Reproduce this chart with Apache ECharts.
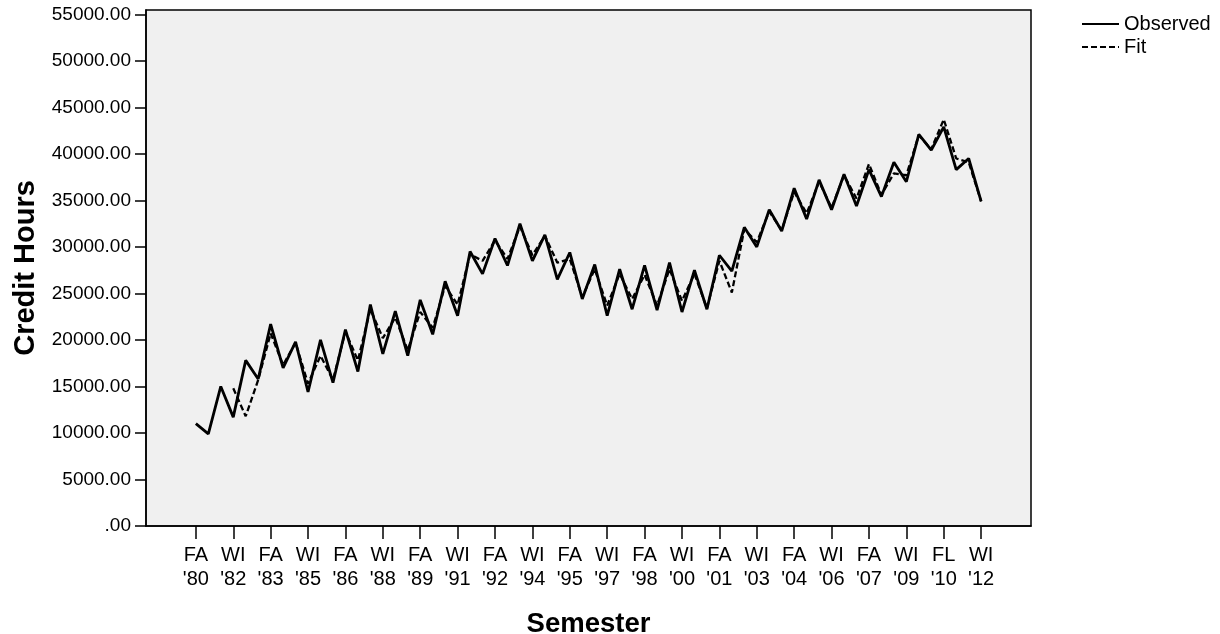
<!DOCTYPE html>
<html>
<head>
<meta charset="utf-8">
<script src="https://cdn.jsdelivr.net/npm/echarts@6/dist/echarts.min.js"></script>
<style>
  html, body { margin: 0; padding: 0; background: #ffffff; }
  #chart { width: 1220px; height: 634px; }
</style>
</head>
<body>
<div id="chart"></div>
<script>
// Semester labels (two semesters per year), index = position on x axis
const semesters = [
  "FA '80","WI '81","FA '81","WI '82","FA '82","WI '83","FA '83","WI '84",
  "FA '84","WI '85","FA '85","WI '86","FA '86","WI '87","FA '87","WI '88",
  "FA '88","WI '89","FA '89","WI '90","FA '90","WI '91","FA '91","WI '92",
  "FA '92","WI '93","FA '93","WI '94","FA '94","WI '95","FA '95","WI '96",
  "FA '96","WI '97","FA '97","WI '98","FA '98","WI '99","FA '99","WI '00",
  "FA '00","WI '01","FA '01","WI '02","FA '02","WI '03","FA '03","WI '04",
  "FA '04","WI '05","FA '05","WI '06","FA '06","WI '07","FA '07","WI '08",
  "FA '08","WI '09","FA '09","WI '10","FL '10","WI '11","FA '11","WI '12"
];

// Tick labels shown on the axis (every third semester)
const tickIndices = [0,3,6,9,12,15,18,21,24,27,30,33,36,39,42,45,48,51,54,57,60,63];

// Observed credit hours
const observed = [
  11000, 9900, 15000, 11700, 17800, 15800, 21700, 17000,
  19800, 14400, 20000, 15400, 21100, 16600, 23800, 18500,
  23100, 18300, 24300, 20600, 26300, 22600, 29500, 27100,
  30900, 28000, 32500, 28500, 31300, 26500, 29400, 24400,
  28100, 22600, 27600, 23300, 28000, 23200, 28300, 23000,
  27500, 23300, 29100, 27400, 32100, 30000, 34000, 31700,
  36300, 33000, 37200, 34000, 37800, 34400, 38300, 35400,
  39100, 37000, 42100, 40400, 42900, 38300, 39500, 34900
];

// Model fit
const fit = [
  null, null, null, 14800, 11800, 15700, 20700, 17300,
  19700, 15300, 18300, 15700, 20900, 17800, 23300, 20200,
  22400, 18900, 23000, 21300, 25800, 23800, 29200, 28500,
  30700, 28700, 32200, 29100, 31200, 28300, 28700, 24600,
  27600, 23700, 27100, 24400, 27000, 23700, 27600, 24200,
  27100, 23400, 28500, 25100, 31900, 30500, 33800, 31800,
  35900, 33600, 37000, 34200, 37700, 35200, 38900, 35600,
  37900, 37700, 42000, 40500, 43700, 39500, 39100, 34900
];

const yTicks = [0,5000,10000,15000,20000,25000,30000,35000,40000,45000,50000,55000];

const chart = echarts.init(document.getElementById('chart'), null, { renderer: 'canvas' });

const toPairs = arr => arr.map((v, i) => [i, v]);

chart.setOption({
  animation: false,
  backgroundColor: '#ffffff',
  textStyle: { fontFamily: 'Liberation Sans, Arial, sans-serif' },
  grid: {
    left: 146, right: 189, top: 10, bottom: 108,
    outerBoundsMode: 'none',
    containLabel: false,
    show: true, backgroundColor: '#f0f0f0', borderColor: '#000000', borderWidth: 1.5
  },
  legend: {
    orient: 'vertical',
    left: 1076, top: 9,
    itemWidth: 37, itemHeight: 10, itemGap: 3,
    itemStyle: { opacity: 0 },
    textStyle: { fontSize: 20, color: '#000', fontFamily: 'Liberation Sans, Arial, sans-serif' },
    data: ['Observed', 'Fit']
  },
  xAxis: {
    type: 'value',
    min: -4, max: 67,
    name: 'Semester',
    nameLocation: 'middle',
    nameGap: 84,
    nameTextStyle: { fontSize: 27.5, fontWeight: 'bold', color: '#000' },
    axisLine: { show: true, onZero: false, lineStyle: { color: '#000', width: 1.5 } },
    axisTick: { show: true, length: 13, customValues: tickIndices, lineStyle: { color: '#000', width: 1.5 } },
    axisLabel: {
      customValues: tickIndices,
      margin: 17,
      fontSize: 20, lineHeight: 24, color: '#000',
      formatter: v => semesters[v].replace(' ', '\n')
    },
    splitLine: { show: false }
  },
  yAxis: {
    type: 'value',
    min: 0, max: 55460,
    name: 'Credit Hours',
    nameLocation: 'middle',
    nameGap: 105,
    nameRotate: 90,
    nameTextStyle: { fontSize: 29, fontWeight: 'bold', color: '#000' },
    axisLine: { show: true, onZero: false, lineStyle: { color: '#000', width: 1.5 } },
    axisTick: { show: true, length: 11, customValues: yTicks, lineStyle: { color: '#000', width: 1.5 } },
    axisLabel: {
      customValues: yTicks,
      margin: 15,
      fontSize: 19, color: '#000',
      formatter: v => v === 0 ? '.00' : v.toFixed(2)
    },
    splitLine: { show: false }
  },
  series: [
    {
      name: 'Observed', type: 'line', data: toPairs(observed),
      symbol: 'none', connectNulls: false,
      lineStyle: { color: '#000', width: 2.8, type: 'solid' },
      itemStyle: { color: '#000' }, z: 3
    },
    {
      name: 'Fit', type: 'line', data: toPairs(fit),
      symbol: 'none', connectNulls: false,
      lineStyle: { color: '#000', width: 2.3, type: [6, 3] },
      itemStyle: { color: '#000' }, z: 4
    }
  ]
});
</script>
</body>
</html>
